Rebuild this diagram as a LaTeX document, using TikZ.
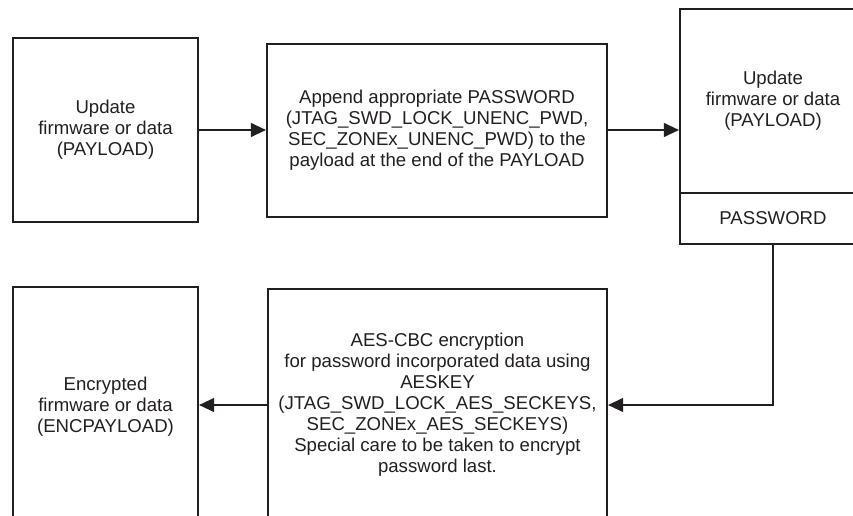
\documentclass[tikz,border=0pt]{standalone}
\usepackage{fontspec}
\setmainfont{Liberation Sans}
\usetikzlibrary{arrows.meta,calc}
\definecolor{ink}{HTML}{231F20}
\begin{document}
\begin{tikzpicture}[x=1pt,y=-1pt,
  box/.style={draw=ink,line width=2.2pt,rectangle,inner sep=0pt,align=center,
    text=ink,font=\fontsize{18.6}{21}\selectfont},
  conn/.style={draw=ink,line width=1.1pt,-{Triangle[length=15pt,width=14pt]}}]
\useasboundingbox (0,0) rectangle (853,516);
\clip (0,0) rectangle (853,516);
\node[box,minimum width=185pt,minimum height=184pt] (upd) at (105.5,130)
  {Update\\firmware or data\\(PAYLOAD)};
\node[box,minimum width=340pt,minimum height=173pt] (app) at (437,130.5)
  {Append appropriate PASSWORD\\(JTAG\_SWD\_LOCK\_UNENC\_PWD,\\SEC\_ZONEx\_UNENC\_PWD) to the\\payload at the end of the PAYLOAD};
\node[box,minimum width=186pt,minimum height=184pt] (pay) at (773,101)
  {Update\\firmware or data\\(PAYLOAD)};
\node[box,minimum width=186pt,minimum height=51pt] (pwd) at (773,218.5)
  {PASSWORD};
\node[box,minimum width=339pt,minimum height=232pt] (aes) at (437.5,405)
  {AES-CBC encryption\\for password incorporated data using\\AESKEY\\(JTAG\_SWD\_LOCK\_AES\_SECKEYS,\\SEC\_ZONEx\_AES\_SECKEYS)\\Special care to be taken to encrypt\\password last.};
\node[box,minimum width=185pt,minimum height=240pt] (enc) at (105.5,407)
  {Encrypted\\firmware or data\\(ENCPAYLOAD)};
\draw[conn] (upd.east |- 0,130) -- (app.west |- 0,130);
\draw[conn] (app.east |- 0,130) -- (pay.west |- 0,130);
\draw[conn] (pwd.south) |- (aes.east);
\draw[conn] (aes.west) -- (aes.west -| enc.east);
\end{tikzpicture}
\end{document}
